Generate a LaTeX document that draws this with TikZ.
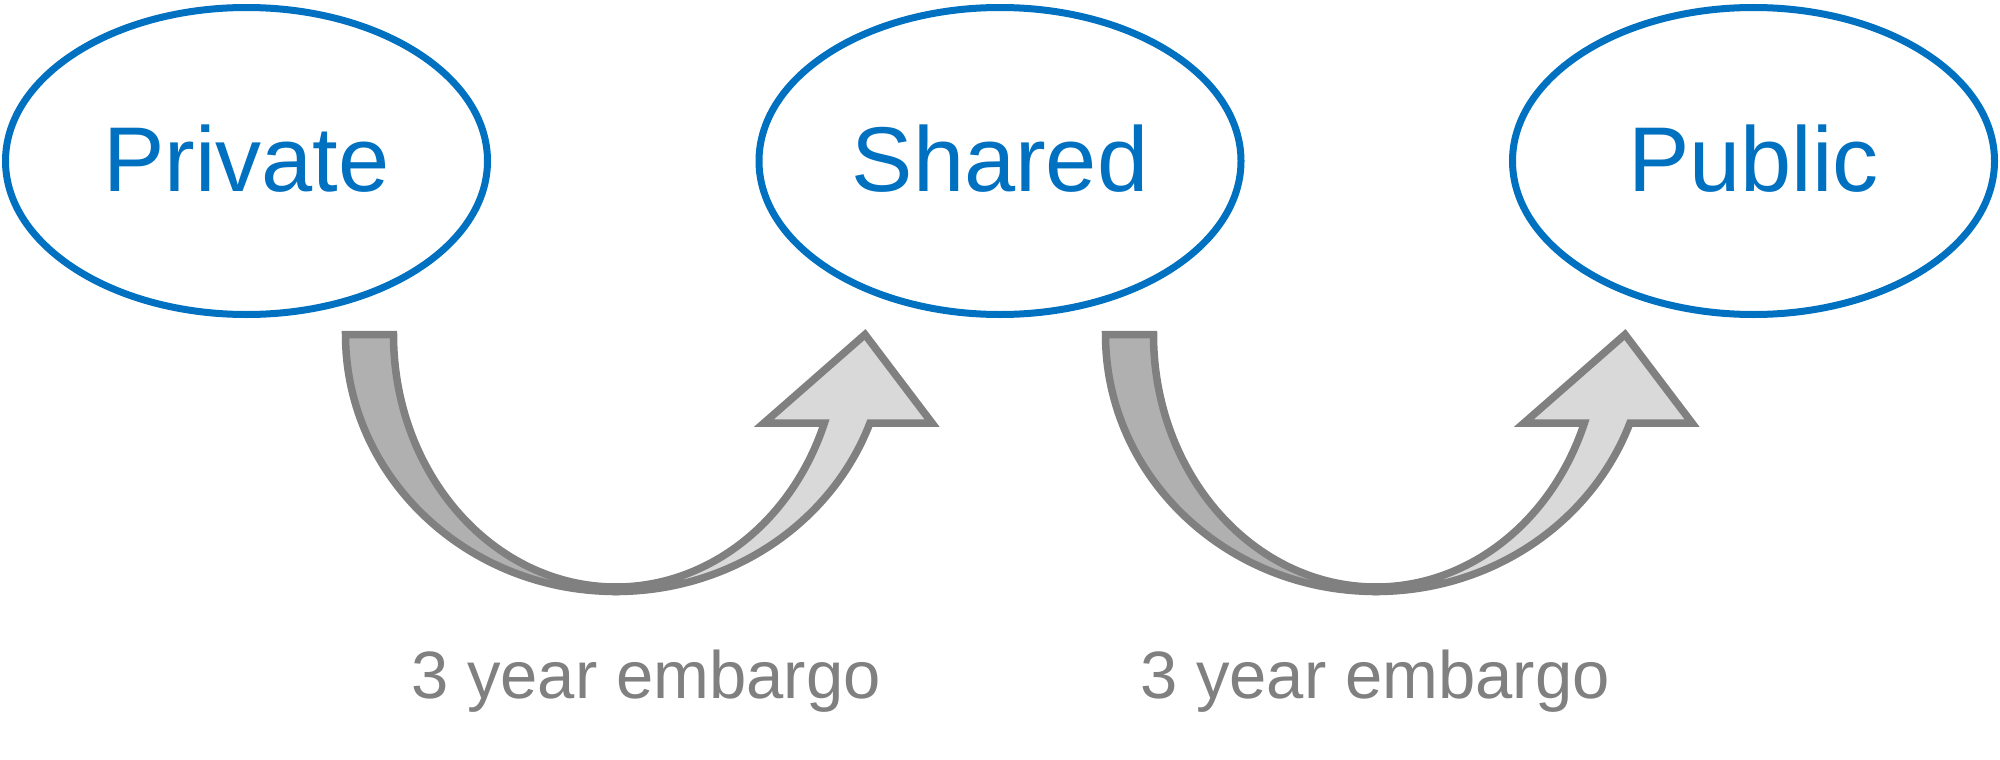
\documentclass[tikz,border=0pt]{standalone}
\usepackage{fontspec}
\setmainfont{Liberation Sans}
\usetikzlibrary{shapes.geometric}
\definecolor{ellblue}{HTML}{0070C0}
\definecolor{arrgray}{HTML}{808080}
\definecolor{darkfill}{HTML}{B0B0B0}
\definecolor{lightfill}{HTML}{D9D9D9}
\begin{document}
\begin{tikzpicture}[x=1pt,y=-1pt,
  stage/.style={ellipse, draw=ellblue, line width=7pt, minimum width=482pt,
    minimum height=307pt, inner sep=0pt, text=ellblue,
    font=\fontsize{92}{92}\selectfont, text height=65.9pt, text depth=5.9pt},
  embargo/.style={anchor=base, text=arrgray, inner sep=0pt,
    font=\fontsize{67}{67}\selectfont},
  backband/.style={fill=darkfill, draw=arrgray, line width=7.5pt},
  frontband/.style={fill=lightfill, draw=arrgray, line width=7.5pt},
  pics/embargoarrow/.style={code={
    \filldraw[backband] (-270.5,0) arc[start angle=180,end angle=90,x radius=270.5,y radius=257]
      -- (0,252.5) arc[start angle=90,end angle=180,x radius=222.5,y radius=252.5] -- cycle;
    \filldraw[frontband] (0,257) arc[start angle=90,end angle=20.15,x radius=270.5,y radius=257]
      -- (316,88.5) -- (249,0) -- (148,88.5) -- (208.4,88.5)
      arc[start angle=20.52,end angle=90,x radius=222.5,y radius=252.5] -- cycle;
  }}]
\useasboundingbox (0,0) rectangle (2000,760);
\node[stage] (private) at (246.5,161) {Private};
\node[stage] (shared) at (1000,161) {Shared};
\node[stage] (public) at (1753.5,161) {Public};
\pic (arrowA) at (616,334.5) {embargoarrow};
\pic (arrowB) at (1376,334.5) {embargoarrow};
\node[embargo] (embA) at (646,698) {3 year embargo};
\node[embargo] (embB) at (1375,698) {3 year embargo};
\end{tikzpicture}
\end{document}
